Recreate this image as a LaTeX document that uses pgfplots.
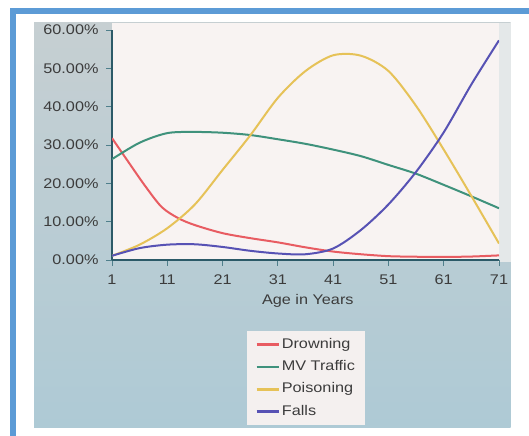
\documentclass[border=0pt]{standalone}
\usepackage{pgfplots}
\pgfplotsset{compat=1.18}
\usepackage{fontspec}
\setmainfont{Liberation Sans}[FakeStretch=1.16]
\definecolor{framecol}{HTML}{5C9BD6}
\definecolor{phototop}{HTML}{C6CFD2}
\definecolor{photobot}{HTML}{AECAD5}
\definecolor{plotbg}{HTML}{F8F3F2}
\definecolor{bandcol}{HTML}{E4E8E9}
\definecolor{legbg}{HTML}{F4F0EF}
\definecolor{axiscol}{HTML}{2C5A68}
\definecolor{tickcol}{HTML}{4F7F8B}
\definecolor{txtcol}{HTML}{3C3C3C}
\definecolor{cDrown}{HTML}{E85C62}
\definecolor{cMV}{HTML}{3F927C}
\definecolor{cPois}{HTML}{E6C258}
\definecolor{cFalls}{HTML}{5752B4}
\begin{document}
\begin{tikzpicture}[x=1bp,y=1bp,font=\fontsize{14bp}{16bp}\selectfont]
% canvas and decorative photo background
\fill[white] (0,0) rectangle (529,436);
\fill[framecol] (10,422) rectangle (529,427.7);
\fill[framecol] (10,0) rectangle (15.7,427.7);
\shade[top color=phototop, bottom color=photobot] (34,8.7) rectangle (510.7,413.3);
\fill[bandcol] (498,174) rectangle (510.7,413.3);
\fill[plotbg] (111.7,176) rectangle (498.5,413.3);
\begin{axis}[
  at={(112bp,176bp)}, anchor=south west,
  scale only axis, width=387bp, height=230bp,
  xmin=1, xmax=71, ymin=0, ymax=60,
  axis x line=bottom, axis y line=left,
  axis line style={-, draw=axiscol, line width=1.2bp},
  xtick={1,11,21,31,41,51,61,71},
  ytick={0,10,20,30,40,50,60},
  yticklabels={0.00\%,10.00\%,20.00\%,30.00\%,40.00\%,50.00\%,60.00\%},
  tick align=outside, major tick length=6bp,
  tick style={draw=tickcol, line width=0.9bp},
  /pgf/number format/assume math mode=true,
  ticklabel style={text=txtcol, font=\fontsize{14bp}{16bp}\selectfont},
  yticklabel style={xshift=-4bp},
  xticklabel style={yshift=-5bp},
  xlabel={Age in Years},
  every axis x label/.style={at={(axis description cs:0.506,0)}, anchor=center, yshift=-41bp, text=txtcol, font=\fontsize{14bp}{16bp}\selectfont},
  legend cell align=left,
  legend style={at={(axis description cs:0.349,-0.309)}, anchor=north west,
    fill=legbg, draw=none, inner xsep=8bp, inner ysep=5bp,
    font=\fontsize{14bp}{16bp}\selectfont, text=txtcol,
    row sep=5.3bp,
    nodes={inner sep=2bp, text height=10bp, text depth=3bp}},
  legend image code/.code={\draw[#1, line width=2.6bp] (0bp,0bp) -- (22bp,0bp);},
]
\addplot[draw=cDrown, line width=2bp, smooth, no markers] coordinates {
(1,31.8) (4,25.5) (7,19.3) (10,13.8) (13,10.9) (16,9.1) (21,7.0) (26,5.7) (31,4.6) (36,3.3) (41,2.2) (46,1.5) (51,1.0) (56,0.85) (61,0.8) (66,0.9) (71,1.2)};
\addlegendentry{Drowning}
\addplot[draw=cMV, line width=2bp, smooth, no markers] coordinates {
(1,26.3) (6,30.6) (11,33.1) (16,33.4) (21,33.2) (26,32.6) (31,31.5) (36,30.3) (41,28.8) (46,27.1) (51,24.8) (56,22.5) (61,19.6) (66,16.6) (71,13.5)};
\addlegendentry{MV Traffic}
\addplot[draw=cPois, line width=2bp, smooth, no markers] coordinates {
(1,1.1) (6,4.0) (11,8.3) (16,14.5) (21,23.5) (26,32.5) (31,42.3) (36,49.3) (41,53.4) (46,53.3) (51,49.3) (56,40.2) (61,28.8) (66,16.7) (71,4.3)};
\addlegendentry{Poisoning}
\addplot[draw=cFalls, line width=2bp, smooth, no markers] coordinates {
(1,1.1) (6,3.1) (11,4.0) (16,4.1) (21,3.4) (26,2.4) (31,1.7) (36,1.5) (41,3.0) (46,7.8) (51,14.5) (56,23.0) (61,33.3) (66,45.8) (71,57.3)};
\addlegendentry{Falls}
\end{axis}
\end{tikzpicture}
\end{document}
